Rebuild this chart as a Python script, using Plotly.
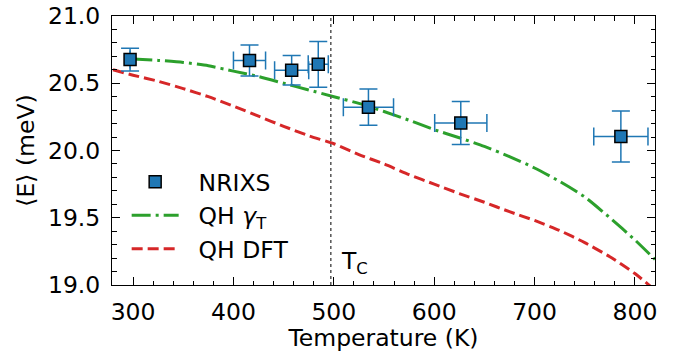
import plotly.graph_objects as go

# ---- data ----
T_nrixs = [297, 416, 458, 484.5, 534.5, 626.5, 786]
E_nrixs = [20.676, 20.669, 20.597, 20.641, 20.322, 20.205, 20.104]
E_err = [0.085, 0.115, 0.11, 0.17, 0.135, 0.16, 0.19]
T_err = [0, 16, 17, 10, 25, 26, 27]

T_gamma = [300, 325, 350, 375, 400, 425, 450, 475, 500, 525, 550, 575, 600,
           625, 650, 675, 700, 725, 750, 775, 800, 820]
E_gamma = [20.68, 20.67, 20.655, 20.63, 20.59, 20.55, 20.50, 20.45, 20.40,
           20.35, 20.29, 20.225, 20.155, 20.095, 20.03, 19.955, 19.87, 19.77,
           19.655, 19.50, 19.335, 19.19]

T_dft = [280, 300, 325, 350, 375, 400, 425, 450, 475, 500, 525, 550, 575, 600,
         625, 650, 675, 700, 725, 750, 775, 800, 825]
E_dft = [20.60, 20.56, 20.515, 20.46, 20.40, 20.33, 20.255, 20.18, 20.11, 20.05,
         19.97, 19.90, 19.82, 19.75, 19.68, 19.615, 19.545, 19.48, 19.405,
         19.315, 19.21, 19.085, 18.93]

T_c = 497
x_range = [279, 820]
y_range = [19.0, 21.0]

FONT = "DejaVu Sans"
FS = 23.5
GAP = "\u00a0\u00a0"

fig = go.Figure()

fig.add_trace(go.Scatter(
    x=T_gamma, y=E_gamma, mode="lines", name=GAP + "QH <i>γ</i><sub>T</sub>",
    line=dict(color="#2ca02c", width=3, dash="19px,5px,3px,5px", shape="spline", smoothing=0.6),
    legendrank=2,
))
fig.add_trace(go.Scatter(
    x=T_dft, y=E_dft, mode="lines", name=GAP + "QH DFT",
    line=dict(color="#d62728", width=3, dash="11px,5px", shape="spline", smoothing=0.6),
    legendrank=3,
))
fig.add_trace(go.Scatter(
    x=T_nrixs, y=E_nrixs, mode="markers", name=GAP + "NRIXS",
    marker=dict(symbol="square", size=12, color="#1f77b4",
                line=dict(color="black", width=1.5)),
    error_y=dict(type="data", array=E_err, color="#1f77b4", thickness=1.5, width=9),
    error_x=dict(type="data", array=T_err, color="#1f77b4", thickness=1.5, width=9),
    legendrank=1,
))

fig.add_shape(type="line", x0=T_c, x1=T_c, y0=0, y1=1, xref="x", yref="paper",
              line=dict(color="#555555", width=1.5, dash="dot"))
fig.add_annotation(x=T_c + 8, y=19.17, xref="x", yref="y", text="T<sub>C</sub>",
                   showarrow=False, xanchor="left", yanchor="middle",
                   font=dict(family=FONT, size=FS, color="black"))

axis_common = dict(
    showline=True, linecolor="black", linewidth=1, mirror="allticks",
    ticks="inside", ticklen=8, tickwidth=1, tickcolor="black",
    showgrid=False, zeroline=False, automargin=False,
    tickfont=dict(family=FONT, size=FS, color="black"),
)

fig.update_xaxes(range=x_range, tickvals=[300, 400, 500, 600, 700, 800],
                 minor=dict(dtick=20, ticks="inside", ticklen=4.5, tickcolor="black"),
                 title=dict(text="Temperature (K)", font=dict(family=FONT, size=FS, color="black"),
                            standoff=6),
                 ticklabelstandoff=6,
                 **axis_common)
fig.update_yaxes(range=y_range, tickvals=[19.0, 19.5, 20.0, 20.5, 21.0],
                 ticktext=["19.0", "19.5", "20.0", "20.5", "21.0"],
                 minor=dict(dtick=0.1, ticks="inside", ticklen=4.5, tickcolor="black"),
                 title=dict(text="⟨E⟩ (meV)", font=dict(family=FONT, size=FS, color="black"),
                            standoff=6),
                 ticklabelstandoff=6,
                 **axis_common)

fig.update_layout(
    width=675, height=352,
    margin=dict(l=112, r=20, t=16, b=67, pad=0, autoexpand=False),
    paper_bgcolor="white", plot_bgcolor="white",
    font=dict(family=FONT, size=FS, color="black"),
    showlegend=True,
    legend=dict(x=0.027, y=0.465, xanchor="left", yanchor="top",
                bgcolor="rgba(0,0,0,0)", borderwidth=0,
                font=dict(family=FONT, size=FS, color="black"),
                itemwidth=47, tracegroupgap=4, traceorder="normal"),
)

fig.write_html("out.html")
